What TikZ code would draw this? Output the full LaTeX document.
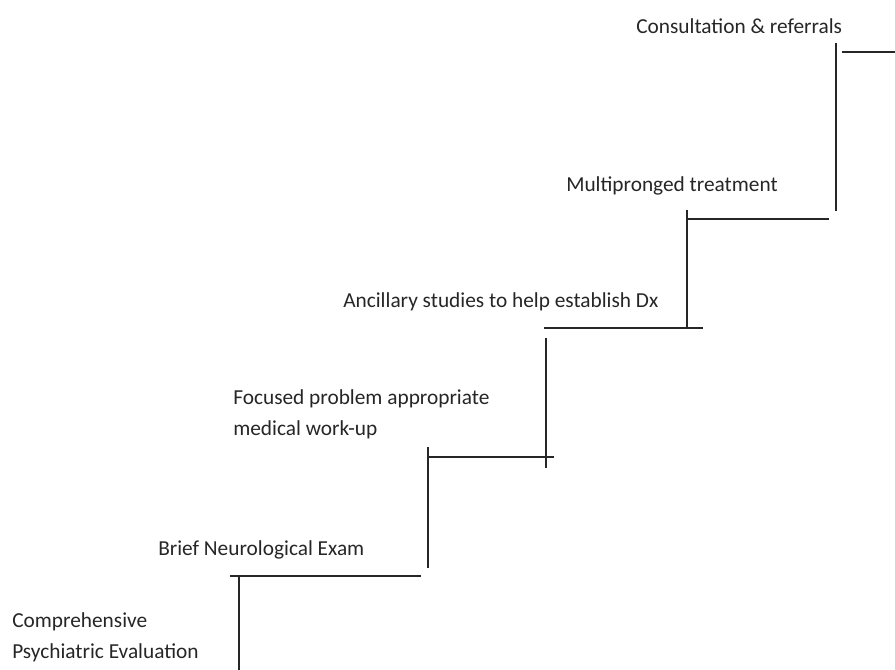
\documentclass[tikz,border=0pt]{standalone}
\usepackage{fontspec}
\setmainfont{Carlito}
\begin{document}
\begin{tikzpicture}[x=0.75pt,y=-0.75pt,
  stair/.style={line width=1.6pt,black!85},
  lbl/.style={anchor=base west,inner sep=0pt,font=\fontsize{16}{23.2}\selectfont,align=left,text=black!85}]
\useasboundingbox (0,0) rectangle (895,670);
% labels
\node[lbl] (t1) at (12,658) {Comprehensive\\Psychiatric Evaluation};
\node[lbl] (t2) at (158,555) {Brief Neurological Exam};
\node[lbl] (t3) at (233,435) {Focused problem appropriate\\medical work-up};
\node[lbl] (t4) at (343,307) {Ancillary studies to help establish Dx};
\node[lbl] (t5) at (566,192) {Multipronged treatment};
\node[lbl] (t6) at (636,34) {Consultation \& referrals};
% stair coordinates
\coordinate (a1) at (239,670); \coordinate (a2) at (239,576);
\coordinate (b1) at (230,576); \coordinate (b2) at (421,576);
\coordinate (c1) at (428,568); \coordinate (c2) at (428,447);
\coordinate (d1) at (428,457); \coordinate (d2) at (554,457);
\coordinate (e1) at (546,468); \coordinate (e2) at (546,338);
\coordinate (f1) at (544,328); \coordinate (f2) at (703,328);
\coordinate (g1) at (687,328); \coordinate (g2) at (687,210);
\coordinate (h1) at (688,219); \coordinate (h2) at (829,219);
\coordinate (i1) at (836,211); \coordinate (i2) at (836,43);
\coordinate (j1) at (842,52); \coordinate (j2) at (895,52);
\draw[stair] (a1) -- (a2);
\draw[stair] (b1) -- (b2);
\draw[stair] (c1) -- (c2);
\draw[stair] (d1) -- (d2);
\draw[stair] (e1) -- (e2);
\draw[stair] (f1) -- (f2);
\draw[stair] (g1) -- (g2);
\draw[stair] (h1) -- (h2);
\draw[stair] (i1) -- (i2);
\draw[stair] (j1) -- (j2);
\end{tikzpicture}
\end{document}
